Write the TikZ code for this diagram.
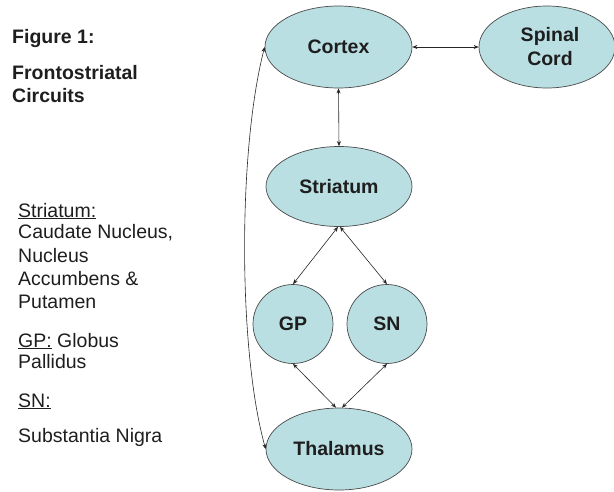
\documentclass[tikz,border=0pt]{standalone}
\usepackage{fontspec}
\setmainfont{Liberation Sans}
\usetikzlibrary{shapes.geometric,arrows.meta}
\definecolor{nodefill}{HTML}{B9DFE3}
\definecolor{nodeedge}{HTML}{4A4A4A}
\definecolor{txt}{HTML}{1E1E1E}
\tikzset{
  region/.style={ellipse, draw=nodeedge, line width=0.7pt, fill=nodefill, inner sep=0pt,
    font=\fontsize{19.5}{22}\selectfont\bfseries, text=txt, align=center},
  link/.style={line width=0.6pt, draw=black!85,
    {Stealth[length=5pt,width=4pt]}-{Stealth[length=5pt,width=4pt]}},
  note/.style={anchor=base west, inner sep=0pt, font=\fontsize{19.5}{22}\selectfont, text=txt},
  title/.style={note, font=\fontsize{19.5}{22}\selectfont\bfseries}
}
\begin{document}
\begin{tikzpicture}[x=1pt,y=-1pt]
\useasboundingbox (0,0) rectangle (614,491);
% nodes
\node[region, minimum width=147, minimum height=82] (cortex) at (338.5,47) {Cortex};
\node[region, minimum width=136, minimum height=82] (spinal) at (547,47) {\hspace*{6pt}Spinal\\[2pt]\hspace*{6pt}Cord};
\node[region, minimum width=146, minimum height=80] (striatum) at (339,186.5) {Striatum};
\node[region, minimum width=80, minimum height=79] (gp) at (293,324) {GP};
\node[region, minimum width=80, minimum height=79] (sn) at (387,324) {SN};
\node[region, minimum width=146, minimum height=82] (thal) at (339,449) {Thalamus};
% connectors
\draw[link] (cortex.east) -- (spinal.west);
\draw[link] (cortex.south) -- (striatum.north);
\draw[link] ([xshift=-1pt]striatum.south) -- (gp.north);
\draw[link] ([xshift=1pt]striatum.south) -- (sn.north);
\draw[link] (gp.south) -- ([xshift=-3pt]thal.north);
\draw[link] (sn.south) -- ([xshift=3pt]thal.north);
\draw[link] (cortex.west) .. controls (238,150) and (238,350) .. (thal.west);
% left text
\node[title] (t1) at (12,43) {Figure 1:};
\node[title] (t2) at (12,79) {Frontostriatal};
\node[title] (t3) at (12,102) {Circuits};
\node[note] (n1) at (18,217) {\underline{Striatum:}};
\node[note] (n2) at (18,238) {Caudate Nucleus,};
\node[note] (n3) at (18,262) {Nucleus};
\node[note] (n4) at (18,285) {Accumbens \&};
\node[note] (n5) at (18,308) {Putamen};
\node[note] (n6) at (18,347) {\underline{GP:} Globus};
\node[note] (n7) at (18,368) {Pallidus};
\node[note] (n8) at (18,407) {\underline{SN:}};
\node[note] (n9) at (18,442) {Substantia Nigra};
\end{tikzpicture}
\end{document}
